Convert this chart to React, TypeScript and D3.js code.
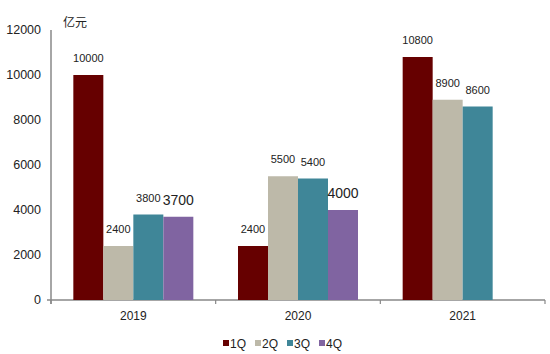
import { useEffect, useRef } from "react";
import * as d3 from "d3";

const years = ["2019", "2020", "2021"];
const quarters = ["1Q", "2Q", "3Q", "4Q"];
// values per quarter, one array per series (null = no bar)
const q1 = [10000, 2400, 10800];
const q2 = [2400, 5500, 8900];
const q3 = [3800, 5400, 8600];
const q4: (number | null)[] = [3700, 4000, null];
const yTicks = [0, 2000, 4000, 6000, 8000, 10000, 12000];
const colors = ["#660000", "#bdb9a9", "#3f8698", "#8064a1"];

const W = 550;
const H = 354;

export default function App() {
  const ref = useRef<SVGSVGElement>(null);

  useEffect(() => {
    if (!ref.current) return;
    const svg = d3.select(ref.current);
    svg.selectAll("*").remove();

    const font = "'Liberation Sans', Arial, sans-serif";
    const series = [q1, q2, q3, q4];

    const x0 = d3.scaleBand().domain(years).range([51, 545]).paddingInner(0).paddingOuter(0);
    const x1 = d3.scaleBand().domain(quarters).range([0, 120]);
    const groupOffset = (x0.bandwidth() - 120) / 2;
    const y = d3.scaleLinear().domain([0, 12000]).range([300, 30]);

    // axes
    svg.append("line").attr("x1", 51).attr("x2", 51).attr("y1", 30).attr("y2", 304)
      .attr("stroke", "#888").attr("stroke-width", 1.5);
    svg.append("line").attr("x1", 47).attr("x2", 545).attr("y1", 300).attr("y2", 300)
      .attr("stroke", "#888").attr("stroke-width", 1.5);
    [...years.map(d => (x0(d) as number)), 545].forEach(v => {
      svg.append("line").attr("x1", v).attr("x2", v).attr("y1", 300).attr("y2", 304)
        .attr("stroke", "#888").attr("stroke-width", 1.2);
    });

    // y tick labels
    svg.append("g").selectAll("text").data(yTicks).join("text")
      .attr("x", 41).attr("y", d => y(d)).attr("dy", "0.35em")
      .attr("text-anchor", "end").attr("font-family", font).attr("font-size", 12.5)
      .attr("fill", "#222").text(d => String(d));

    svg.append("text").attr("x", 63).attr("y", 27)
      .attr("font-family", "'Noto Sans CJK SC', sans-serif").attr("font-size", 12)
      .attr("fill", "#222").text("亿元");

    // x labels
    svg.append("g").selectAll("text").data(years).join("text")
      .attr("x", d => (x0(d) as number) + x0.bandwidth() / 2).attr("y", 320)
      .attr("text-anchor", "middle").attr("font-family", font).attr("font-size", 12)
      .attr("fill", "#222").text(d => d);

    // bars
    series.forEach((vals, si) => {
      vals.forEach((v, yi) => {
        if (v == null) return;
        const bx = (x0(years[yi]) as number) + groupOffset + (x1(quarters[si]) as number);
        svg.append("rect").attr("x", bx).attr("y", y(v))
          .attr("width", x1.bandwidth()).attr("height", y(0) - y(v))
          .attr("fill", colors[si]);
        const big = si === 3;
        svg.append("text").attr("x", bx + x1.bandwidth() / 2).attr("y", y(v) - (big ? 12 : 13))
          .attr("text-anchor", "middle").attr("font-family", font)
          .attr("font-size", big ? 14 : 11).attr("fill", "#222")
          .text(String(v));
      });
    });

    // legend
    const lg = svg.append("g");
    quarters.forEach((q, i) => {
      const lx = 223 + i * 32;
      lg.append("rect").attr("x", lx).attr("y", 340).attr("width", 6).attr("height", 6)
        .attr("fill", colors[i]);
      lg.append("text").attr("x", lx + 7).attr("y", 347.5).attr("font-family", font)
        .attr("font-size", 12).attr("fill", "#222").text(q);
    });
  }, []);

  return (
    <svg ref={ref} width={W} height={H}
      style={{ position: "absolute", left: 0, top: 0, background: "#fff" }} />
  );
}
